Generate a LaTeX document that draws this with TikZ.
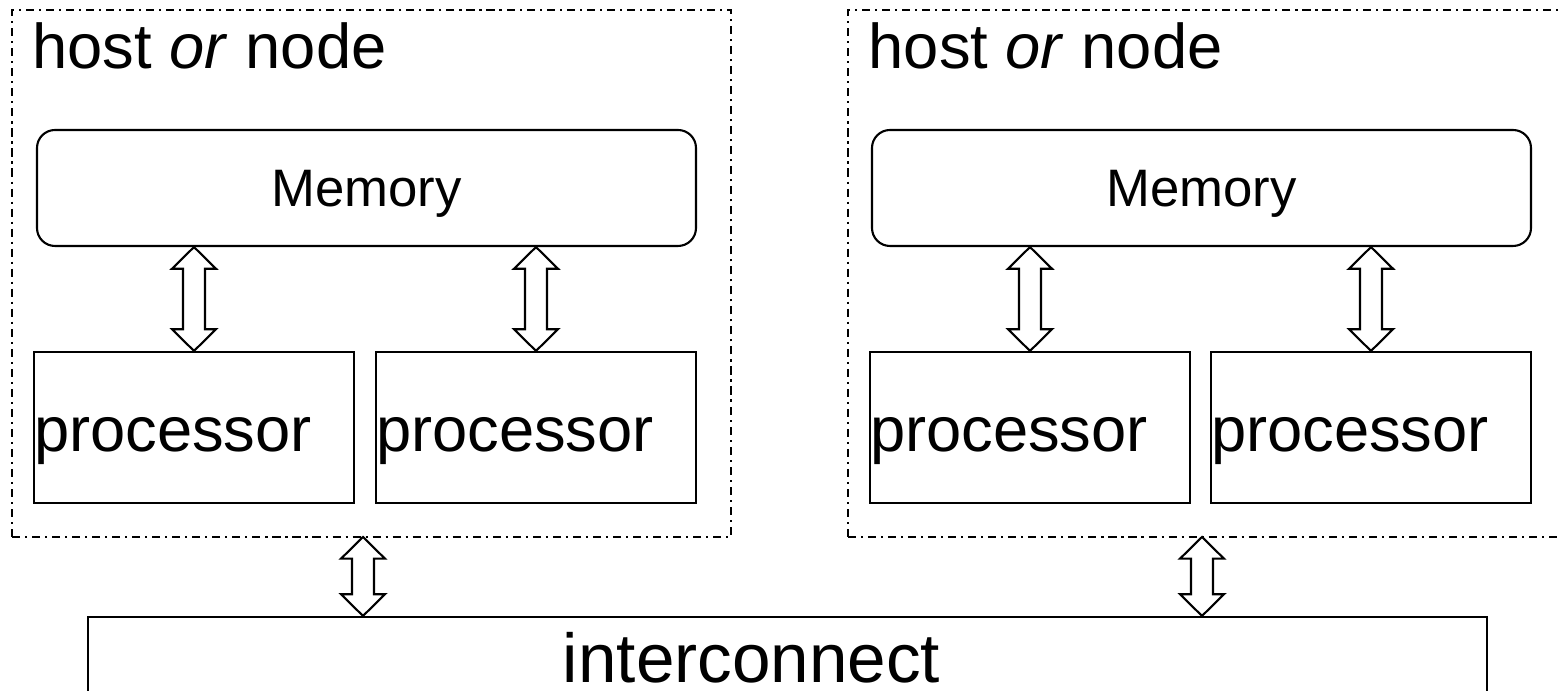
\documentclass[tikz,border=0pt]{standalone}
\usepackage{fontspec}
\setmainfont{Liberation Sans}
\usetikzlibrary{shapes, arrows, calc}
\tikzstyle{host} = [draw, line width=0.6pt, dash pattern=on 2.3pt off 1.4pt on 0.6pt off 1.4pt, minimum width=7.19cm, minimum height=5.27cm]
\tikzstyle{hostname} = [anchor=base west, inner sep=0pt, font=\fontsize{18}{21}\selectfont]
\tikzstyle{mem} = [draw, line width=0.6pt, rounded corners=0.18cm, minimum width=6.59cm, minimum height=1.16cm, text depth=0pt, font=\fontsize{15}{18}\selectfont]
\tikzstyle{cpu} = [draw, line width=0.6pt, minimum width=3.2cm, minimum height=1.51cm, text width=3.2cm, text height=0.49cm, text depth=0cm, inner xsep=0pt, align=left, font=\fontsize{18}{21}\selectfont]
\tikzstyle{link} = [draw, line width=0.6pt, minimum width=13.99cm, minimum height=1cm]
% hollow two-headed bus arrow, drawn top to bottom
\tikzstyle{bus} = [draw, fill=white, line width=0.6pt, to path={let \p1=(\tikztostart), \p2=(\tikztotarget) in
  (\x1,\y1) -- (\x1+0.22cm,\y1-0.217cm) -- (\x1+0.11cm,\y1-0.217cm) -- (\x1+0.11cm,\y2+0.217cm) -- (\x1+0.22cm,\y2+0.217cm)
  -- (\x1,\y2) -- (\x1-0.22cm,\y2+0.217cm) -- (\x1-0.11cm,\y2+0.217cm) -- (\x1-0.11cm,\y1-0.217cm) -- (\x1-0.22cm,\y1-0.217cm) -- cycle}]

\begin{document}
\begin{tikzpicture}
    \useasboundingbox (0,0) rectangle (15.61,-6.91);
    % first host
    \node[host] (hostA) at (3.715,-2.735) {};
    \node[hostname] (nameA) at ([shift={(0.21,-0.60)}]hostA.north west) {host \textit{or} node};
    \node[mem] (memA) at (3.665,-1.88) {Memory};
    \node[cpu] (cpuA1) at (1.94,-4.275) {processor};
    \node[cpu, right of=cpuA1, node distance=3.42cm] (cpuA2) {processor};
    % second host
    \node[host, right of=hostA, node distance=8.36cm] (hostB) {};
    \node[hostname] (nameB) at ([shift={(0.21,-0.60)}]hostB.north west) {host \textit{or} node};
    \node[mem] (memB) at (12.015,-1.88) {Memory};
    \node[cpu] (cpuB1) at (10.30,-4.275) {processor};
    \node[cpu, right of=cpuB1, node distance=3.41cm] (cpuB2) {processor};
    % network
    \node[link] (net) at (7.875,-6.67) {};
    \node[anchor=base, font=\fontsize{19.7}{23}\selectfont] (netname) at (7.515,-6.83) {interconnect};
    \coordinate (tapA) at (3.63,-5.37);
    \coordinate (tapB) at (12.02,-5.37);
    % buses
    \draw[bus] (cpuA1.north |- memA.south) to (cpuA1.north);
    \draw[bus] (cpuA2.north |- memA.south) to (cpuA2.north);
    \draw[bus] (cpuB1.north |- memB.south) to (cpuB1.north);
    \draw[bus] (cpuB2.north |- memB.south) to (cpuB2.north);
    \draw[bus] (tapA) to (tapA |- net.north);
    \draw[bus] (tapB) to (tapB |- net.north);
\end{tikzpicture}
\end{document}
